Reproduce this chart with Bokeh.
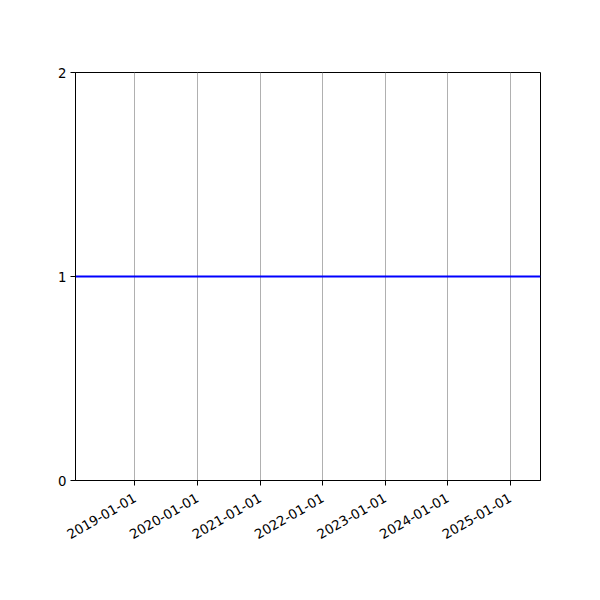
import math
import pandas as pd
from bokeh.plotting import figure
from bokeh.models import FixedTicker, Range1d, ColumnDataSource
from bokeh.embed import file_html
from bokeh.resources import INLINE

# data
dates = ["2018-01-19", "2025-06-27"]
values = [1, 1]
tick_dates = ["2019-01-01", "2020-01-01", "2021-01-01", "2022-01-01",
              "2023-01-01", "2024-01-01", "2025-01-01"]
y_ticks = [0, 1, 2]

def ms(s):
    return pd.Timestamp(s).value / 1e6

x = [pd.Timestamp(d) for d in dates]
src = ColumnDataSource(dict(x=x, y=values))

p = figure(x_axis_type="datetime", output_backend="svg", toolbar_location=None,
           frame_width=465, frame_height=408,
           min_border_left=75, min_border_top=72, min_border_right=44, min_border_bottom=104,
           x_range=Range1d(x[0], x[-1]), y_range=Range1d(0, 2))
p.background_fill_color = "white"
p.border_fill_color = "white"
p.outline_line_color = "black"
p.outline_line_width = 1

p.line("x", "y", source=src, line_color="#0000ff", line_width=2)

tick_ms = [ms(d) for d in tick_dates]
p.xaxis.ticker = FixedTicker(ticks=tick_ms)
p.xaxis.major_label_overrides = {t: lab for t, lab in zip(tick_ms, tick_dates)}
p.xaxis.major_label_orientation = math.pi / 6
p.yaxis.ticker = FixedTicker(ticks=y_ticks)

for ax in (p.xaxis, p.yaxis):
    ax.axis_line_color = "black"
    ax.major_tick_line_color = "black"
    ax.major_tick_out = 5
    ax.major_tick_in = 0
    ax.minor_tick_line_color = None
    ax.major_label_text_font = "DejaVu Sans"
    ax.major_label_text_font_size = "13.3px"
    ax.major_label_text_color = "black"
p.xaxis.major_label_standoff = 11
p.yaxis.major_label_standoff = 4

p.xgrid.grid_line_color = "#b0b0b0"
p.xgrid.grid_line_width = 1
p.ygrid.grid_line_color = None

open("out.html", "w").write(file_html(p, INLINE))
